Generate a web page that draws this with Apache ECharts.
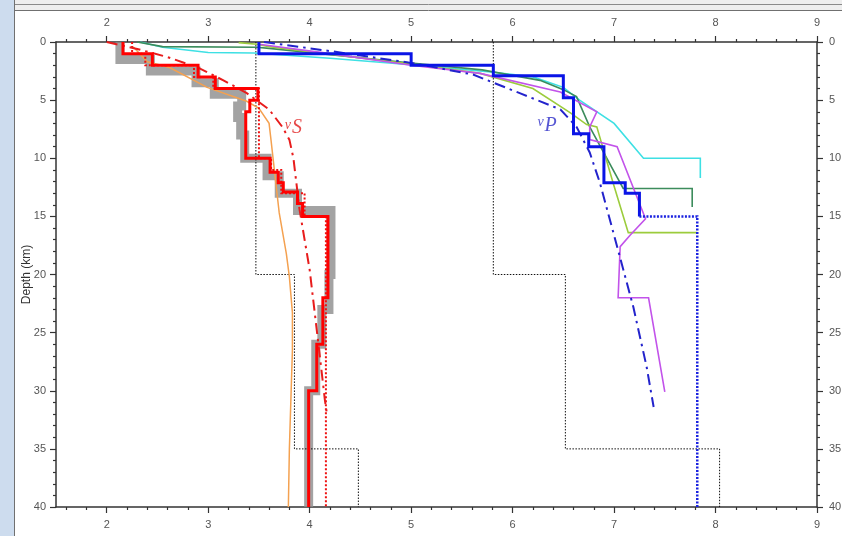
<!DOCTYPE html>
<html>
<head>
<meta charset="utf-8">
<script src="https://cdn.jsdelivr.net/npm/echarts@6/dist/echarts.min.js"></script>
<style>
html,body{margin:0;padding:0;background:#fff;}
#main{width:842px;height:536px;}
</style>
</head>
<body>
<div id="main"></div>
<script>
// tick labels
var xMajor = [2, 3, 4, 5, 6, 7, 8, 9];
var xMinor = [1.6, 1.8, 2.2, 2.4, 2.6, 2.8, 3.2, 3.4, 3.6, 3.8, 4.2, 4.4, 4.6, 4.8,
    5.2, 5.4, 5.6, 5.8, 6.2, 6.4, 6.6, 6.8, 7.2, 7.4, 7.6, 7.8, 8.2, 8.4, 8.6, 8.8];

// layered models: top depth of each layer (km) and velocity (km/s)
var vsTop = [0, 1, 2, 3, 4, 5, 6, 10, 11.2, 12.1, 12.9, 13.9, 15, 22, 26, 30];
var vsVel = [2.16, 2.45, 2.9, 3.07, 3.49, 3.41, 3.37, 3.61, 3.69, 3.74, 3.88, 3.93, 4.18, 4.13, 4.07, 3.99];

var vsBandTop = [0, 1.5, 2.5, 3.5, 4.5, 5.5, 6.5, 8, 10, 11.5, 13, 14.5, 20, 23, 26, 30];
var vsBandVel = [2.13, 2.43, 2.88, 3.06, 3.33, 3.29, 3.32, 3.36, 3.58, 3.70, 3.88, 4.21, 4.19, 4.12, 4.06, 3.99];

var vsDotTop = [0, 1, 2, 3, 4, 10, 11, 13, 15];
var vsDotVel = [2.25, 2.38, 2.86, 3.05, 3.5, 3.62, 3.72, 3.95, 4.16];

var vpTop = [0, 1, 2, 2.9, 4.8, 7.9, 9, 12.1, 13];
var vpVel = [3.5, 5.0, 5.81, 6.5, 6.6, 6.75, 6.9, 7.11, 7.25];
var vpBottom = 15;
var vpDotTop = [15];
var vpDotVel = [7.82];

var refSTop = [0, 20, 35];
var refSVel = [3.47, 3.85, 4.48];
var refPTop = [0, 20, 35];
var refPVel = [5.81, 6.52, 8.04];

// smooth curves
var vsCurveVel = [2.0, 2.3, 2.6, 2.9, 3.15, 3.38, 3.6, 3.73, 3.8, 3.84, 3.9, 4.0, 4.05, 4.1, 4.15, 4.17];
var vsCurveDep = [0, 0.6, 1.3, 2.2, 3.3, 4.4, 5.8, 7.3, 8.4, 10, 14.4, 19.6, 23.3, 27, 30.8, 32];
var vpCurveVel = [3.55, 4.3, 5.0, 5.61, 6.07, 6.47, 6.63, 6.76, 6.86, 6.99, 7.19, 7.32, 7.39];
var vpCurveDep = [0, 0.9, 1.8, 2.8, 4.4, 5.8, 7.3, 9.5, 12.1, 16.3, 22.8, 27.9, 31.4];

var orangeVel = [2.26, 2.4, 2.62, 2.99, 3.38, 3.5, 3.6, 3.62, 3.67, 3.7, 3.77, 3.8, 3.83, 3.83, 3.82, 3.8, 3.79];
var orangeDep = [0.4, 1.7, 2.2, 3.9, 5.1, 5.7, 7.0, 8.5, 12.4, 14.7, 18.2, 20.2, 23.3, 26.5, 29.3, 35, 40];
var cyanVel = [2.33, 2.55, 3.0, 3.45, 4.2, 5.06, 5.81, 6.2, 6.5, 6.66, 7.0, 7.29, 7.85, 7.85];
var cyanDep = [0, 0.45, 0.9, 0.95, 1.4, 2.0, 2.6, 3.0, 3.9, 5.0, 7.0, 10.0, 10.0, 11.7];
var greenVel = [2.3, 2.55, 3.48, 3.6, 5.0, 5.7, 6.27, 6.5, 6.63, 6.76, 7.09, 7.77, 7.77];
var greenDep = [0, 0.4, 0.45, 0.55, 1.8, 2.4, 3.3, 4.1, 4.7, 7.3, 12.6, 12.6, 14.2];
var limeVel = [3.3, 3.48, 3.6, 5.0, 5.68, 6.2, 6.57, 6.73, 6.83, 6.99, 7.14, 7.82];
var limeDep = [0.05, 0.2, 0.4, 1.9, 2.7, 4.0, 6.1, 7.1, 7.3, 12.1, 16.4, 16.4];
var purpleVel = [3.5, 4.2, 5.0, 5.68, 6.47, 6.83, 6.76, 6.76, 7.03, 7.31, 7.16, 7.06, 7.04, 7.34, 7.5];
var purpleDep = [0.2, 1.0, 2.0, 2.7, 4.3, 6.0, 7.3, 8.4, 9.0, 15.2, 16.6, 17.6, 22.0, 22.0, 30.1];

function stepLine(tops, vels, bottom, start) {
    var pts = start ? [start] : [];
    for (var i = 0; i < tops.length; i++) {
        var next = i + 1 < tops.length ? tops[i + 1] : bottom;
        pts.push([vels[i], tops[i]]);
        pts.push([vels[i], next]);
    }
    return pts;
}
function zipLine(vels, deps) {
    return vels.map(function (v, i) { return [v, deps[i]]; });
}
function line(name, data, color, width, type, z) {
    return {
        name: name, type: 'line', data: data, symbol: 'none', silent: true,
        z: z || 2, animation: false,
        lineStyle: {color: color, width: width, type: type || 'solid', cap: 'butt', join: 'miter'}
    };
}

var labelFont = '"Liberation Sans Narrow", "Liberation Sans", Arial, sans-serif';
var axisColor = '#333';
var labelColor = '#555';

function xAx(pos, major) {
    return {
        type: 'value', position: pos, min: 1.5, max: 9,
        axisLine: {show: major, onZero: false, lineStyle: {color: axisColor, width: 1.5}},
        axisTick: {show: true, customValues: major ? xMajor : xMinor, length: major ? 6 : 3,
            lineStyle: {color: axisColor, width: 1.2}},
        axisLabel: {show: major, customValues: xMajor, color: labelColor, fontSize: 11,
            fontFamily: labelFont, margin: pos === 'top' ? 14 : 12},
        splitLine: {show: false}
    };
}
function yAx(pos) {
    return {
        type: 'value', position: pos, min: 0, max: 40, interval: 5, inverse: true,
        name: pos === 'left' ? 'Depth (km)' : '', nameLocation: 'middle', nameGap: 23,
        nameMoveOverlap: false,
        nameTextStyle: {color: '#333', fontSize: 12, fontFamily: '"Liberation Sans", Arial, sans-serif'},
        axisLine: {show: true, onZero: false, lineStyle: {color: axisColor, width: 1.5}},
        axisTick: {show: true, length: 6, lineStyle: {color: axisColor, width: 1.2}},
        minorTick: {show: true, splitNumber: 5, length: 3, lineStyle: {color: axisColor, width: 1.2}},
        axisLabel: {color: labelColor, fontSize: 11, fontFamily: labelFont, margin: pos === 'left' ? 10 : 12},
        splitLine: {show: false}, minorSplitLine: {show: false}
    };
}

var chart = echarts.init(document.getElementById('main'), null, {renderer: 'canvas'});
var series = [
    line('vs range', stepLine(vsBandTop, vsBandVel, 40), 'rgba(140,140,140,0.8)', 9, 'solid', 1),
    line('ref S', stepLine(refSTop, refSVel, 40), '#111', 1, [1.5, 1.5]),
    line('ref P', stepLine(refPTop, refPVel, 40), '#111', 1, [1.5, 1.5]),
    line('orange', zipLine(orangeVel, orangeDep), '#f4a150', 1.5),
    line('cyan', zipLine(cyanVel, cyanDep), '#3ee0e4', 1.6),
    line('green', zipLine(greenVel, greenDep), '#3c8c5c', 1.6),
    line('lime', zipLine(limeVel, limeDep), '#9ccc3c', 1.6),
    line('purple', zipLine(purpleVel, purpleDep), '#c253ea', 1.6),
    line('vs dotted', stepLine(vsDotTop, vsDotVel, 40), '#ee1111', 2, [2, 2], 3),
    line('vs curve', zipLine(vsCurveVel, vsCurveDep), '#e81c1c', 2, [11, 5, 2.5, 5], 3),
    line('vp curve', zipLine(vpCurveVel, vpCurveDep), '#2323cc', 2, [11, 5, 2.5, 5], 3),
    line('vs', stepLine(vsTop, vsVel, 40), '#ff0000', 3, 'solid', 4),
    line('vp', stepLine(vpTop, vpVel, vpBottom), '#0a14e6', 3, 'solid', 4),
    line('vp dotted', stepLine(vpDotTop, vpDotVel, 40, [vpVel[vpVel.length - 1], vpBottom]), '#1a22e0', 2.5, [2, 1.5], 4),
    {
        type: 'scatter', symbolSize: 0, silent: true, animation: false, z: 5,
        data: [{value: [3.84, 7.4], name: 'S'}, {value: [6.34, 7.2], name: 'P'}],
        label: {
            show: true, position: 'inside',
            formatter: function (p) { return '{v' + p.name + '|v}{' + p.name + '|' + p.name + '}'; },
            rich: {
                vS: {fontFamily: '"Liberation Serif", serif', fontStyle: 'italic', fontSize: 14, color: '#e01c1c', padding: [0, 1, 6, 0]},
                S: {fontFamily: '"Liberation Serif", serif', fontStyle: 'italic', fontSize: 20, color: '#e01c1c'},
                vP: {fontFamily: '"Liberation Serif", serif', fontStyle: 'italic', fontSize: 14, color: '#2d2dc8', padding: [0, 1, 6, 0]},
                P: {fontFamily: '"Liberation Serif", serif', fontStyle: 'italic', fontSize: 20, color: '#2d2dc8'}
            }
        }
    }
];

var option = {
    backgroundColor: '#fff',
    animation: false,
    grid: {left: 56, right: 25, top: 42, bottom: 29, containLabel: false, outerBoundsMode: 'none'},
    xAxis: [xAx('bottom', true), xAx('top', true), xAx('bottom', false), xAx('top', false)],
    yAxis: [yAx('left'), yAx('right')],
    graphic: [
        {type: 'rect', shape: {x: 0, y: 0, width: 14, height: 536}, style: {fill: '#cddcee'}, silent: true},
        {type: 'rect', shape: {x: 15, y: 0, width: 827, height: 10}, style: {fill: '#eeeeee'}, silent: true},
        {type: 'line', shape: {x1: 15, y1: 4.5, x2: 842, y2: 4.5}, style: {stroke: '#8a8a8a', lineWidth: 1}, silent: true},
        {type: 'line', shape: {x1: 15, y1: 10.5, x2: 842, y2: 10.5}, style: {stroke: '#707070', lineWidth: 1}, silent: true},
        {type: 'line', shape: {x1: 14.5, y1: 0, x2: 14.5, y2: 536}, style: {stroke: '#707070', lineWidth: 1}, silent: true}
    ],
    series: series
};
chart.setOption(option);
</script>
</body>
</html>
